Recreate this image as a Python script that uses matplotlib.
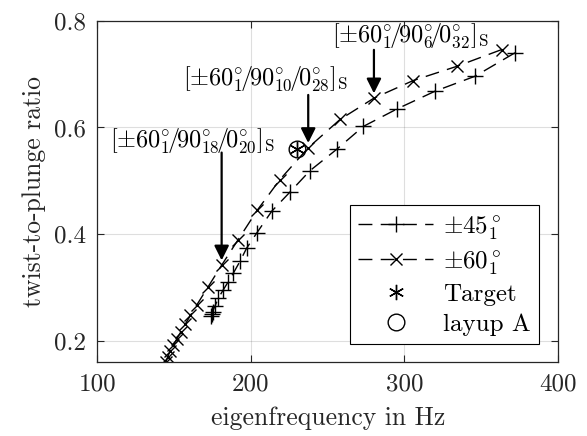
import matplotlib
matplotlib.use("Agg")
import matplotlib.pyplot as plt

plt.rcParams['font.family'] = 'serif'
plt.rcParams['font.serif'] = ['cmr10']
plt.rcParams['mathtext.fontset'] = 'cm'
plt.rcParams['axes.formatter.use_mathtext'] = True
plt.rcParams['axes.unicode_minus'] = False

# ---- data ----
freq45 = [372.0, 345.9, 319.9, 295.3, 273.2, 255.8, 238.4, 225.4, 213.5, 203.7,
          197.2, 192.8, 188.5, 185.2, 182.0, 178.7, 176.5, 175.0, 174.3, 173.9]
ratio45 = [0.740, 0.696, 0.668, 0.635, 0.602, 0.559, 0.519, 0.479, 0.443, 0.402,
           0.374, 0.349, 0.327, 0.311, 0.296, 0.280, 0.265, 0.255, 0.250, 0.247]

freq60 = [363.3, 334.0, 305.7, 280.1, 258.0, 237.3, 218.9, 204.1, 191.7, 180.9,
          172.2, 164.6, 160.6, 157.3, 154.3, 151.7, 149.4, 147.4, 145.7, 144.6]
ratio60 = [0.746, 0.7145, 0.688, 0.655, 0.615, 0.562, 0.5025, 0.445, 0.390, 0.342,
           0.302, 0.267, 0.248, 0.232, 0.217, 0.204, 0.192, 0.181, 0.170, 0.161]

target_f, target_r = [230.0], [0.560]
layupA_f, layupA_r = [230.0], [0.560]

labels = [r'$\pm45^\circ_1$', r'$\pm60^\circ_1$', 'Target', 'layup A']

annot_idx = [9, 5, 3]
annot_text = [r'$[\pm60^{\circ}_{1}\!/\!90^{\circ}_{18}\!/\!0^{\circ}_{20}]_\mathrm{S}$',
              r'$[\pm60^{\circ}_{1}\!/\!90^{\circ}_{10}\!/\!0^{\circ}_{28}]_\mathrm{S}$',
              r'$[\pm60^{\circ}_{1}\!/\!90^{\circ}_{6}\!/\!0^{\circ}_{32}]_\mathrm{S}$']
annot_text_pos = [(108.5, 0.575), (155.5, 0.692), (253.0, 0.772)]
annot_tail_y = [0.553, 0.661, 0.7455]

xticks = [100, 200, 300, 400]
yticks = [0.2, 0.4, 0.6, 0.8]

# ---- figure ----
fig = plt.figure(figsize=(5.87, 4.36), dpi=100)
ax = fig.add_axes([0.166, 0.169, 0.7846, 0.7834])

axc = (0.15, 0.15, 0.15)
dash = (0, (10, 6))
l1, = ax.plot(freq45, ratio45, color='k', lw=1.0, linestyle=dash, marker='+',
              markersize=11, markeredgewidth=1.0)
l2, = ax.plot(freq60, ratio60, color='k', lw=1.0, linestyle=dash, marker='x',
              markersize=9, markeredgewidth=1.0)
l3, = ax.plot(target_f, target_r, linestyle='none', color='k', marker=(6, 2, 0),
              markersize=11, markeredgewidth=1.0)
l4, = ax.plot(layupA_f, layupA_r, linestyle='none', color='k', marker='o',
              markersize=12, markerfacecolor='none', markeredgewidth=1.0)

for i, txt, (tx, ty), tail in zip(annot_idx, annot_text, annot_text_pos, annot_tail_y):
    fx, ry = freq60[i], ratio60[i]
    ax.text(tx, ty, txt, ha='left', va='center', fontsize=17.5)
    ax.annotate('', xy=(fx, ry + 0.009), xytext=(fx, tail),
                arrowprops=dict(arrowstyle='-|>', color='k', lw=1.6,
                                mutation_scale=22, shrinkA=0, shrinkB=0))

ax.set_xlim(100, 400)
ax.set_ylim(0.16, 0.8)
ax.set_xticks(xticks)
ax.set_yticks(yticks)
ax.set_xticklabels([str(v) for v in xticks])
ax.set_yticklabels([f'{v:.1f}' for v in yticks])
ax.grid(True, color=(0.15, 0.15, 0.15), alpha=0.15, lw=0.8)
ax.set_axisbelow(True)
ax.tick_params(direction='in', length=5, width=0.8, top=True, right=True,
               labelsize=18, colors=axc, pad=8)
for s in ax.spines.values():
    s.set_color(axc)
    s.set_linewidth(0.9)

ax.set_xlabel('eigenfrequency in Hz', fontsize=18.5, color=axc, labelpad=8)
ax.set_ylabel('twist-to-plunge ratio', fontsize=18.5, color=axc, labelpad=6)

leg = ax.legend([l1, l2, l3, l4], labels, loc='lower right',
                bbox_to_anchor=(0.959, 0.054), fontsize=18, frameon=True,
                fancybox=False, framealpha=1, edgecolor='k', handlelength=3.0,
                handletextpad=0.4, borderpad=0.33, labelspacing=0.28,
                borderaxespad=0)
leg.get_frame().set_linewidth(0.8)

fig.savefig('out.png', dpi=100)
